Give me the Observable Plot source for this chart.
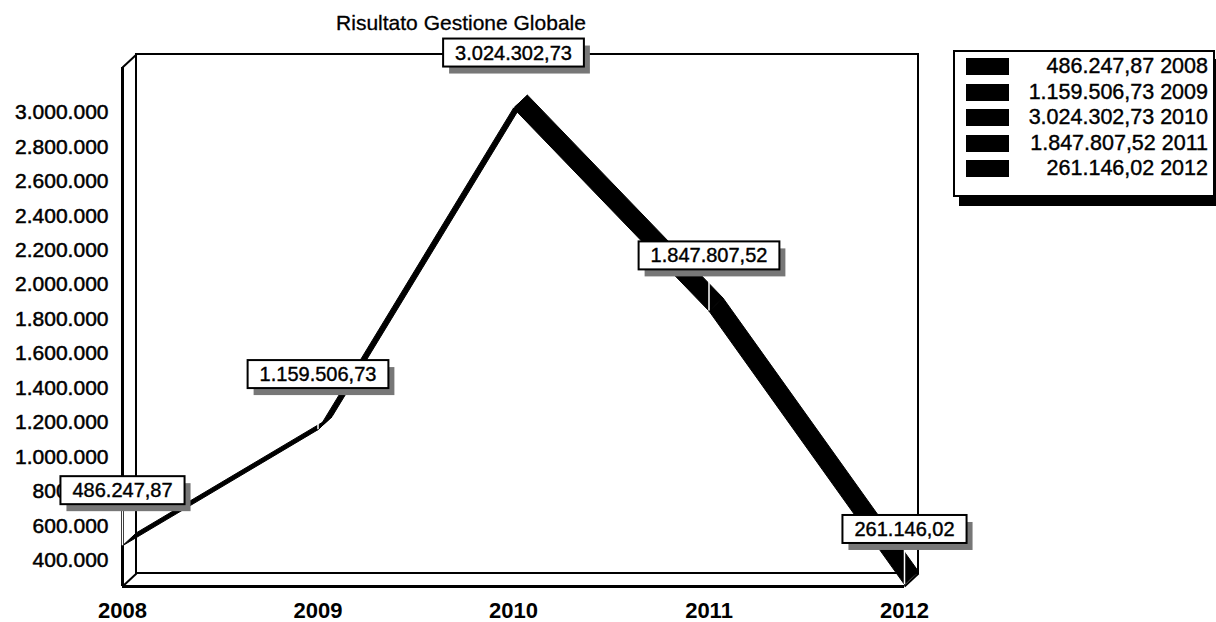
<!DOCTYPE html>
<html>
<head>
<meta charset="utf-8">
<script src="https://cdn.jsdelivr.net/npm/d3@7"></script>
<script src="https://cdn.jsdelivr.net/npm/@observablehq/plot@0.6"></script>
<style>
  html, body { margin: 0; padding: 0; background: white; overflow: hidden; }
  #wrap { position: relative; width: 1216px; height: 622px; font-family: "Liberation Sans", Arial, sans-serif; }
  #title { position: absolute; left: 0; top: 10px; width: 922px; text-align: center; font-size: 21px; line-height: 26px; color: #000; z-index: 2; -webkit-text-stroke: 0.3px #000; }
  #chart { position: absolute; left: 0; top: 0; }
  #legend { position: absolute; left: 953px; top: 50px; width: 258px; height: 141px; border: 2px solid #000; background: #fff; box-shadow: 6px 9px 0 #000; z-index: 3; box-sizing: content-box; padding-top: 2px; }
  .lrow { position: relative; height: 25.5px; }
  .lsw { position: absolute; left: 11px; top: 4px; width: 43px; height: 17px; background: #000; }
  .ltx { position: absolute; right: 5px; top: 0; line-height: 25.5px; font-size: 21.5px; color: #000; white-space: nowrap; -webkit-text-stroke: 0.4px #000; }
  .ytick text { stroke: #000; stroke-width: 0.5px; }
</style>
</head>
<body>
<div id="wrap">
  <div id="title">Risultato Gestione Globale</div>
  <div id="chart"></div>
  <div id="legend"></div>
</div>
<script>
// ---- data ----
const years = [2008, 2009, 2010, 2011, 2012];
const values = [486247.87, 1159506.73, 3024302.73, 1847807.52, 261146.02];
const yTicks = [400000, 600000, 800000, 1000000, 1200000, 1400000, 1600000, 1800000, 2000000, 2200000, 2400000, 2600000, 2800000, 3000000];
const chartTitle = "Risultato Gestione Globale";

// ---- scale config ----
const yMin = 250000, yMax = 3260000;
const depthX = 0.0716;   // 3D depth in years
const depthY = 75400;    // 3D depth in value units
const leaderLen = 200000;

const loc = d3.formatLocale({decimal: ",", thousands: ".", grouping: [3], currency: ["€", ""]});
const fmtInt = loc.format(",d");
const fmtVal = loc.format(",.2f");

const data = years.map((y, i) => ({year: y, value: values[i], label: fmtVal(values[i])}));

// ribbon polygons (one per segment)
const ribbon = [];
for (let i = 0; i < data.length - 1; i++) {
  const a = data[i], b = data[i + 1];
  ribbon.push(
    {seg: i, x: a.year, y: a.value},
    {seg: i, x: b.year, y: b.value},
    {seg: i, x: b.year + depthX, y: b.value + depthY},
    {seg: i, x: a.year + depthX, y: a.value + depthY},
    {seg: i, x: a.year, y: a.value}
  );
}

const x0 = years[0], x1 = years[years.length - 1];
const corners = [{x: x0, y: yMax}, {x: x0, y: yMin}, {x: x1, y: yMin}];

const svg = Plot.plot({
  width: 1216,
  height: 622,
  marginLeft: 122,
  marginRight: 312,
  marginTop: 67,
  marginBottom: 36,
  style: {fontFamily: "'Liberation Sans', Arial, sans-serif", fontSize: "21px", background: "white", overflow: "visible", color: "black"},
  x: {type: "linear", domain: [x0, x1]},
  y: {type: "linear", domain: [yMin, yMax]},
  marks: [
    // back wall
    Plot.rect([{}], {x1: x0 + depthX, x2: x1 + depthX, y1: yMin + depthY, y2: yMax + depthY, fill: "none", stroke: "black", strokeWidth: 2}),
    // depth diagonals
    Plot.link(corners, {x1: "x", y1: "y", x2: d => d.x + depthX, y2: d => d.y + depthY, stroke: "black", strokeWidth: 2}),
    // front axes lines
    Plot.ruleX([x0], {y1: yMin, y2: yMax, stroke: "black", strokeWidth: 3}),
    Plot.ruleY([yMin], {x1: x0, x2: x1, stroke: "black", strokeWidth: 3}),
    // axes
    Plot.axisY({ticks: yTicks, tickFormat: fmtInt, tickSize: 0, tickPadding: 14, fontSize: 21, label: null}),
    Plot.axisX({ticks: years, tickFormat: "d", tickSize: 0, tickPadding: 16, fontSize: 22, fontWeight: "bold", label: null}),
    // 3D ribbon
    Plot.line(ribbon, {x: "x", y: "y", z: "seg", fill: "black", stroke: "black", strokeWidth: 1, strokeLinejoin: "round", curve: "linear"}),
    // white leader lines
    Plot.ruleX(data, {x: "year", y1: "value", y2: d => d.value + leaderLen, stroke: "white", strokeWidth: 1.5}),
    // value labels
    Plot.text(data, {x: "year", y: "value", text: "label", dy: -55, fontSize: 20, fill: "black"})
  ]
});

document.getElementById("chart").appendChild(svg);

// thicken y tick labels slightly (scan weight)
svg.querySelectorAll('g[aria-label="y-axis tick label"] text').forEach(t => {
  t.setAttribute("stroke", "black");
  t.setAttribute("stroke-width", "0.5");
});

// draw boxes + shadows behind the value labels
const NS = "http://www.w3.org/2000/svg";
const labelGroup = svg.querySelector('g[aria-label="text"]');
if (labelGroup) {
  labelGroup.querySelectorAll("text").forEach(t => {
    const b = t.getBBox();
    const tr = t.getAttribute("transform");
    const padX = 12, padY = 3;
    const mk = (dx, dy, fill, stroke) => {
      const r = document.createElementNS(NS, "rect");
      r.setAttribute("x", b.x - padX + dx);
      r.setAttribute("y", b.y - padY + dy);
      r.setAttribute("width", b.width + 2 * padX);
      r.setAttribute("height", b.height + 2 * padY);
      r.setAttribute("fill", fill);
      if (stroke) { r.setAttribute("stroke", stroke); r.setAttribute("stroke-width", 2); }
      if (tr) r.setAttribute("transform", tr);
      labelGroup.insertBefore(r, t);
    };
    mk(6, 7, "#777", null);
    mk(0, 0, "white", "black");
    t.setAttribute("stroke", "black");
    t.setAttribute("stroke-width", "0.4");
  });
}

// legend
const legend = document.getElementById("legend");
years.forEach((y, i) => {
  const row = document.createElement("div");
  row.className = "lrow";
  const sw = document.createElement("div");
  sw.className = "lsw";
  const tx = document.createElement("div");
  tx.className = "ltx";
  tx.textContent = fmtVal(values[i]) + " " + y;
  row.appendChild(sw);
  row.appendChild(tx);
  legend.appendChild(row);
});
document.getElementById("title").textContent = chartTitle;
</script>
</body>
</html>
